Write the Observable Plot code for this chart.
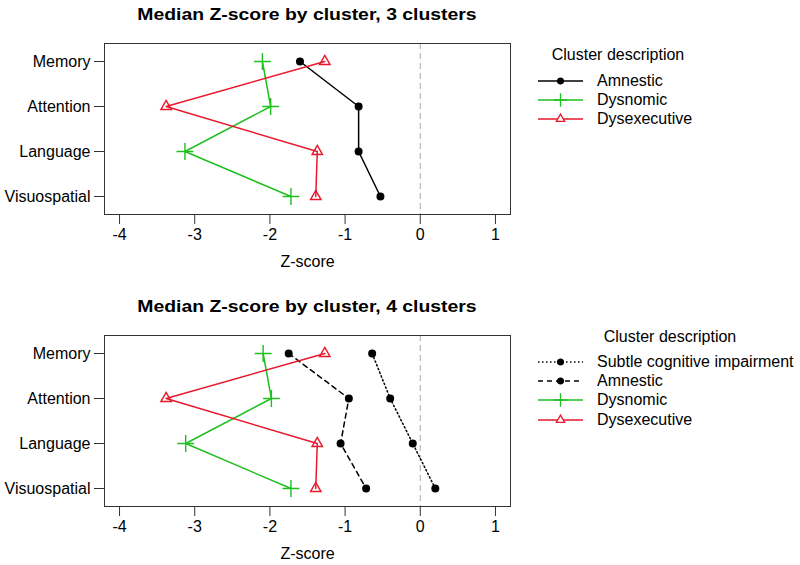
<!DOCTYPE html>
<html>
<head>
<meta charset="utf-8">
<script src="https://cdn.jsdelivr.net/npm/d3@7"></script>
<script src="https://cdn.jsdelivr.net/npm/@observablehq/plot@0.6"></script>
<style>
  html, body { margin: 0; padding: 0; background: #fff; }
  #root { position: relative; width: 800px; height: 565px; font-family: "Liberation Sans", Arial, Helvetica, sans-serif; color: #000; }
  .abs { position: absolute; }
  .title { font-weight: bold; font-size: 17px; white-space: nowrap; transform: translate(-50%, -50%) scaleX(1.14); }
  .ltitle { font-size: 16px; white-space: nowrap; transform: translate(-50%, -50%); }
  .lrow { font-size: 16px; white-space: nowrap; transform: translateY(-50%); display: flex; align-items: center; }
</style>
</head>
<body>
<div id="root"></div>
<script>
// ---- data ----
const domains = ["Memory", "Attention", "Language", "Visuospatial"];
const xTicks = [-4, -3, -2, -1, 0, 1];

// 3-cluster solution
const c3Names = ["Amnestic", "Dysnomic", "Dysexecutive"];
const c3Amnestic = [-1.60, -0.82, -0.82, -0.53];
const c3Dysnomic = [-2.10, -1.99, -3.13, -1.72];
const c3Dysexecutive = [-1.27, -3.38, -1.37, -1.39];

// 4-cluster solution
const c4Names = ["Subtle cognitive impairment", "Amnestic", "Dysnomic", "Dysexecutive"];
const c4Subtle = [-0.64, -0.40, -0.10, 0.20];
const c4Amnestic = [-1.75, -0.95, -1.06, -0.72];
const c4Dysnomic = [-2.09, -1.98, -3.12, -1.72];
const c4Dysexecutive = [-1.27, -3.38, -1.37, -1.39];

// styles
const GREEN = "#1fbf1f", RED = "#e8192c", BLACK = "#000";
const styleAmnestic = {color: BLACK, symbol: "circle", fill: BLACK, dash: null, r: 3.3};
const styleDysnomic = {color: GREEN, symbol: "plus", fill: "none", dash: null, r: 5.5};
const styleDysexec = {color: RED, symbol: "triangle", fill: "none", dash: null, r: 3.9};

const panels = [
  {
    title: "Median Z-score by cluster, 3 clusters",
    top: 0,
    series: [
      {name: c3Names[0], values: c3Amnestic, ...styleAmnestic},
      {name: c3Names[1], values: c3Dysnomic, ...styleDysnomic},
      {name: c3Names[2], values: c3Dysexecutive, ...styleDysexec}
    ],
    legendTitle: {x: 618, y: 55},
    legendRows: [80.7, 100, 119.3]
  },
  {
    title: "Median Z-score by cluster, 4 clusters",
    top: 292,
    series: [
      {name: c4Names[0], values: c4Subtle, ...styleAmnestic, dash: "1.5,2.5"},
      {name: c4Names[1], values: c4Amnestic, ...styleAmnestic, dash: "5,4"},
      {name: c4Names[2], values: c4Dysnomic, ...styleDysnomic},
      {name: c4Names[3], values: c4Dysexecutive, ...styleDysexec}
    ],
    legendTitle: {x: 670, y: 336.7},
    legendRows: [362.3, 381, 400, 420]
  }
];

const root = document.getElementById("root");

function div(cls, x, y, text) {
  const d = document.createElement("div");
  d.className = "abs " + cls;
  d.style.left = x + "px";
  d.style.top = y + "px";
  if (text != null) d.textContent = text;
  root.appendChild(d);
  return d;
}

for (const p of panels) {
  const rows = [];
  for (const s of p.series) {
    s.values.forEach((v, i) => rows.push({series: s.name, domain: domains[i], z: v}));
  }
  const marks = [
    Plot.ruleX([0], {stroke: "#b5b5b5", strokeWidth: 1.2, strokeDasharray: "6,4"}),
    Plot.frame({stroke: "#333", strokeWidth: 1}),
    Plot.axisX({ticks: xTicks, tickSize: 10, tickPadding: 4, tickFormat: d => String(d),
      fontSize: 16, stroke: "#333", label: "Z-score", labelAnchor: "center", labelOffset: 52, labelArrow: "none"}),
    Plot.axisY({tickSize: 10, tickPadding: 4, fontSize: 16, stroke: "#333", label: null})
  ];
  for (const s of p.series) {
    const data = rows.filter(d => d.series === s.name);
    marks.push(Plot.line(data, {x: "z", y: "domain", stroke: s.color, strokeWidth: 1.5,
      strokeDasharray: s.dash || undefined}));
    marks.push(Plot.dot(data, {x: "z", y: "domain", symbol: () => s.symbol, r: s.r,
      stroke: s.color, fill: s.fill, strokeWidth: 1.4}));
  }
  const chart = Plot.plot({
    width: 520,
    height: 275,
    marginTop: 43,
    marginBottom: 61,
    marginLeft: 104,
    marginRight: 10,
    style: {fontFamily: "'Liberation Sans', Arial, Helvetica, sans-serif", fontSize: "16px", color: "#000", background: "#fff"},
    x: {domain: [-4.2, 1.2]},
    y: {type: "point", domain: domains, padding: 0.39},
    symbol: {type: "identity"},
    marks
  });
  chart.style.position = "absolute";
  chart.style.left = "0px";
  chart.style.top = p.top + "px";
  root.appendChild(chart);

  // title
  div("title", 307, p.top + 15, p.title);

  // legend
  div("ltitle", p.legendTitle.x, p.legendTitle.y, "Cluster description");
  p.series.forEach((s, i) => {
    const row = div("lrow", 536, p.legendRows[i]);
    const svg = d3.create("svg").attr("width", 50).attr("height", 16).style("margin-right", "11px").style("overflow", "visible");
    svg.append("line").attr("x1", 2).attr("x2", 47).attr("y1", 8).attr("y2", 8)
      .attr("stroke", s.color).attr("stroke-width", 1.4)
      .attr("stroke-dasharray", s.dash || null);
    const symType = s.symbol === "circle" ? d3.symbolCircle : s.symbol === "plus" ? d3.symbolPlus : d3.symbolTriangle;
    const rr = s.symbol === "circle" ? s.r * 0.9 : s.r * 0.8;
    const size = Math.PI * rr * rr;
    svg.append("path").attr("transform", "translate(24.5,8)")
      .attr("d", d3.symbol(symType, size)())
      .attr("fill", s.fill === "none" ? "#fff" : s.fill).attr("stroke", s.color).attr("stroke-width", 1.3);
    row.appendChild(svg.node());
    const t = document.createElement("span");
    t.textContent = s.name;
    row.appendChild(t);
  });
}
</script>
</body>
</html>
